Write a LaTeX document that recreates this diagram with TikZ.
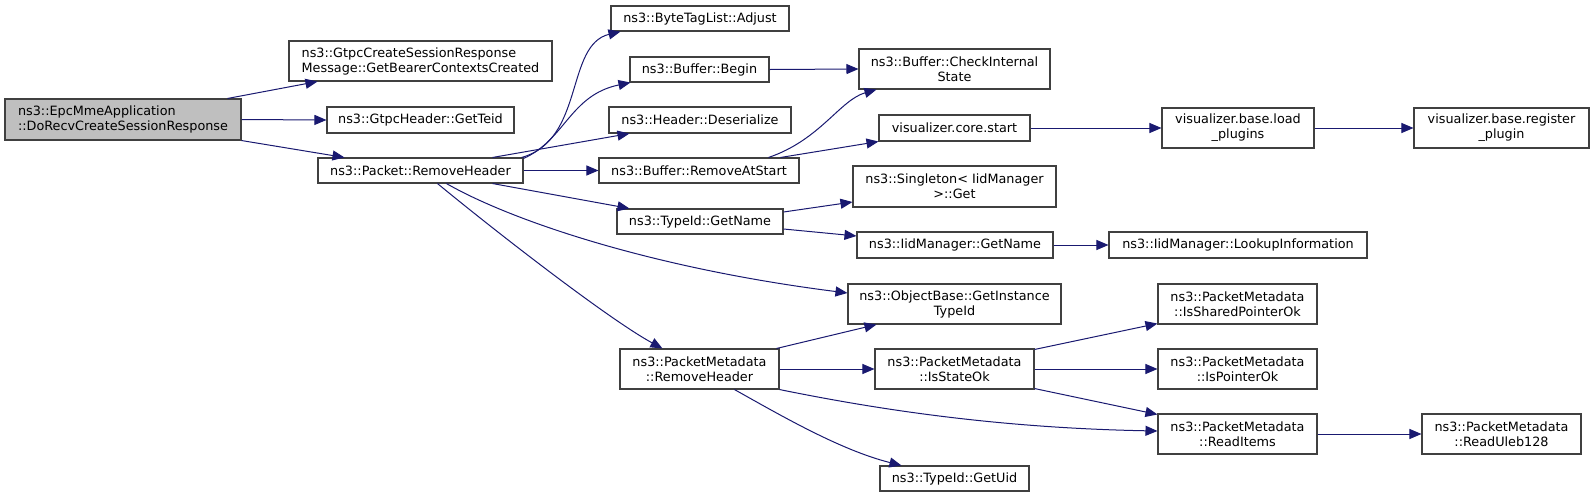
\documentclass[tikz,border=0pt]{standalone}
\usepackage{fontspec}
\setmainfont{DejaVu Sans}
\usetikzlibrary{arrows.meta,calc}
\definecolor{edgecol}{HTML}{191970}
\definecolor{boxcol}{HTML}{404040}
\definecolor{rootfill}{HTML}{BFBFBF}
\begin{document}
\begin{tikzpicture}[x=0.75pt,y=-0.75pt,
  fn/.style={draw=boxcol,line width=0.8pt,fill=white,inner sep=0pt,align=center,
    font=\fontsize{9.6pt}{11.25pt}\selectfont},
  call/.style={draw=edgecol,line width=0.75pt,-{Triangle[length=9pt,width=7.5pt]},fill=none},
  ]
\useasboundingbox (0,0) rectangle (1595,497);
\tikzset{box/.style n args={2}{fn,minimum width=#1*0.75pt,minimum height=#2*0.75pt}}
% nodes
\node[box={236}{41},fill=rootfill,align=left] (A) at (123,119.5) {ns3::EpcMmeApplication\\::DoRecvCreateSessionResponse};
\node[box={263}{40},align=left] (B) at (420.5,61) {ns3::GtpcCreateSessionResponse\\Message::GetBearerContextsCreated};
\node[box={187}{26}] (C) at (420.5,120) {ns3::GtpcHeader::GetTeid};
\node[box={205}{25}] (D) at (420.5,170.5) {ns3::Packet::RemoveHeader};
\node[box={178}{25}] (Adj) at (700,18.5) {ns3::ByteTagList::Adjust};
\node[box={139}{25}] (Begin) at (699.5,69.5) {ns3::Buffer::Begin};
\node[box={182}{26}] (Deser) at (700,120) {ns3::Header::Deserialize};
\node[box={200}{25}] (RAS) at (699,170.5) {ns3::Buffer::RemoveAtStart};
\node[box={166}{25}] (GetName) at (700,221.5) {ns3::TypeId::GetName};
\node[box={159}{40}] (PMRH) at (699.5,369) {ns3::PacketMetadata\\::RemoveHeader};
\node[box={191}{40}] (CIS) at (954.5,69) {ns3::Buffer::CheckInternal\\State};
\node[box={151}{26}] (VCS) at (954.5,128) {visualizer.core.start};
\node[box={203}{41}] (Single) at (954.5,186.5) {ns3::Singleton< IidManager\\ >::Get};
\node[box={196}{26}] (IidGN) at (955,245) {ns3::IidManager::GetName};
\node[box={213}{40}] (OBGIT) at (954.5,304) {ns3::ObjectBase::GetInstance\\TypeId};
\node[box={159}{40}] (ISO) at (954.5,369) {ns3::PacketMetadata\\::IsStateOk};
\node[box={149}{25}] (GetUid) at (954.5,478.5) {ns3::TypeId::GetUid};
\node[box={152}{40}] (LoadPl) at (1238,128) {visualizer.base.load\\\_plugins};
\node[box={258}{26}] (Lookup) at (1238,245) {ns3::IidManager::LookupInformation};
\node[box={159}{40}] (ISPO) at (1237.5,304) {ns3::PacketMetadata\\::IsSharedPointerOk};
\node[box={159}{40}] (IPO) at (1237.5,369) {ns3::PacketMetadata\\::IsPointerOk};
\node[box={159}{40}] (RI) at (1237.5,434) {ns3::PacketMetadata\\::ReadItems};
\node[box={175}{40}] (RegPl) at (1501.5,128) {visualizer.base.register\\\_plugin};
\node[box={159}{40}] (Uleb) at (1501.5,434) {ns3::PacketMetadata\\::ReadUleb128};
% edges
\draw[call] ($(A.north east)+(-14,0)$) -- ($(B.south west)+(29,0)$);
\draw[call] (A.east) -- (C.west);
\draw[call] (A.south east) -- ($(D.north west)+(27,0)$);
\draw[call] ($(D.north east)+(-2,0)$) .. controls (585,140) and (565,45) .. ($(Adj.south west)+(10,0)$);
\draw[call] ($(D.north east)+(0,1)$) .. controls (565,140) and (570,95) .. ($(Begin.south west)+(1,0)$);
\draw[call] ($(D.north east)+(-31,0)$) -- ($(Deser.south west)+(21,0)$);
\draw[call] (D.east) -- (RAS.west);
\draw[call] ($(D.south east)+(-31,0)$) -- ($(GetName.north west)+(13,0)$);
\draw[call] ($(D.south west)+(129,0)$) .. controls (510,220) and (650,268) .. ($(OBGIT.west)+(0,-11)$);
\draw[call] ($(D.south west)+(120,0)$) .. controls (500,235) and (610,320) .. ($(PMRH.north west)+(43,0)$);
\draw[call] (Begin.east) -- (CIS.west);
\draw[call] ($(RAS.north east)+(-31,0)$) .. controls (820,140) and (840,100) .. ($(CIS.south west)+(18,0)$);
\draw[call] ($(RAS.north east)+(-19,0)$) -- (VCS.south west);
\draw[call] (VCS.east) -- (LoadPl.west);
\draw[call] (LoadPl.east) -- (RegPl.west);
\draw[call] ($(GetName.east)+(0,-9.5)$) -- ($(Single.west)+(0,15.5)$);
\draw[call] ($(GetName.east)+(0,7.5)$) -- ($(IidGN.west)+(0,-9)$);
\draw[call] (IidGN.east) -- (Lookup.west);
\draw[call] ($(PMRH.north east)+(-3,0)$) -- ($(OBGIT.south west)+(29,0)$);
\draw[call] (PMRH.east) -- (ISO.west);
\draw[call] (PMRH.south east) .. controls (880,410) and (1000,428) .. ($(RI.west)+(0,-3)$);
\draw[call] ($(PMRH.south west)+(115,0)$) .. controls (780,415) and (840,450) .. ($(GetUid.north west)+(22,0)$);
\draw[call] ($(ISO.north east)+(0,1)$) -- ($(ISPO.south west)+(0,-1)$);
\draw[call] (ISO.east) -- (IPO.west);
\draw[call] ($(ISO.south east)+(0,-1)$) -- ($(RI.north west)+(0,1)$);
\draw[call] (RI.east) -- (Uleb.west);
\end{tikzpicture}
\end{document}
